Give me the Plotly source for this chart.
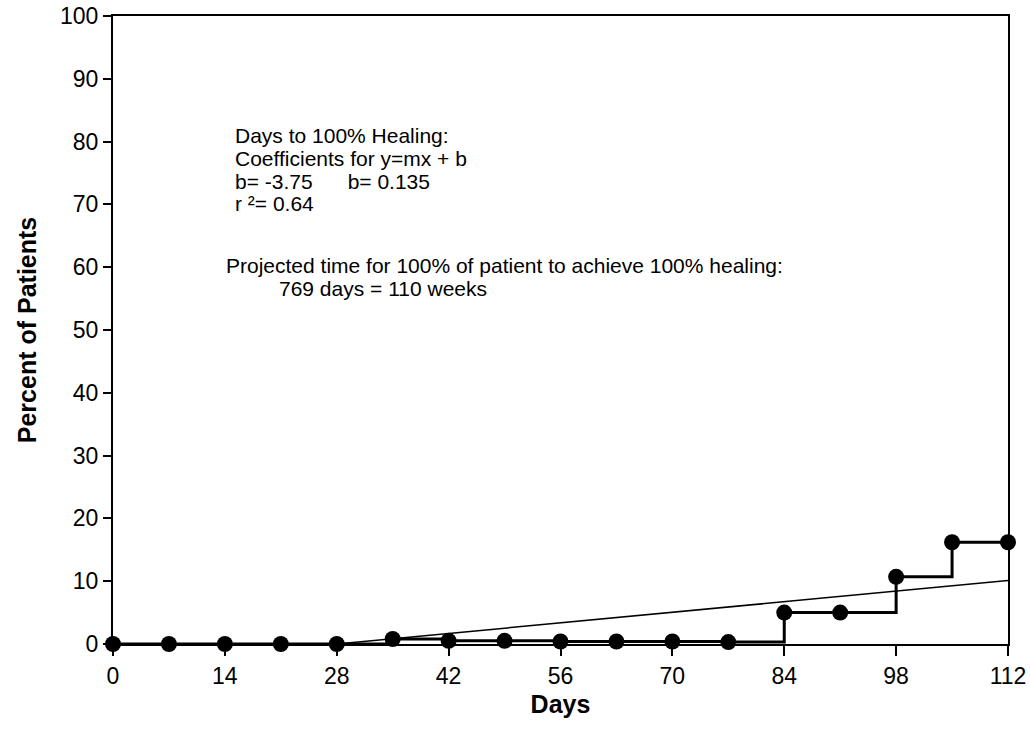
import plotly.graph_objects as go

days = [0, 7, 14, 21, 28, 35, 42, 49, 56, 63, 70, 77, 84, 91, 98, 105, 112]
percent_healed = [0, 0, 0, 0, 0, 0.8, 0.5, 0.5, 0.4, 0.4, 0.4, 0.3, 5, 5, 10.7, 16.2, 16.2]
trend_x = [28, 112]
trend_y = [0, 10.1]
x_ticks = [0, 14, 28, 42, 56, 70, 84, 98, 112]
y_ticks = [0, 10, 20, 30, 40, 50, 60, 70, 80, 90, 100]

note_lines = [
    "Days to 100% Healing:",
    "Coefficients for y=mx + b",
    "b= -3.75\u00a0\u00a0\u00a0\u00a0\u00a0\u00a0b= 0.135",
    "r \u00b2= 0.64",
]
note_x = [15, 15, 15, 15]
note_y = [80.9, 77.3, 73.7, 70.1]
proj_lines = [
    "Projected time for 100% of patient to achieve 100% healing:",
    "769 days = 110 weeks",
]
proj_x = [13.9, 20.5]
proj_y = [60.3, 56.6]

font = "Liberation Sans, Arial, sans-serif"

fig = go.Figure()
fig.add_trace(go.Scatter(
    x=trend_x, y=trend_y, mode="lines",
    line=dict(color="black", width=1.5), showlegend=False, hoverinfo="skip",
))
fig.add_trace(go.Scatter(
    x=days, y=percent_healed, mode="lines+markers",
    line=dict(color="black", width=3, shape="hv"),
    marker=dict(color="black", size=16, symbol="circle"),
    cliponaxis=False, showlegend=False,
))

annotations = []
for t, x, y in zip(note_lines + proj_lines, note_x + proj_x, note_y + proj_y):
    annotations.append(dict(
        x=x, y=y, xref="x", yref="y", text=t, showarrow=False,
        xanchor="left", yanchor="middle",
        font=dict(family=font, size=21, color="black"),
    ))

fig.update_layout(
    width=1030, height=744,
    margin=dict(l=113, r=22, t=16, b=100),
    paper_bgcolor="white", plot_bgcolor="white",
    font=dict(family=font, color="black"),
    annotations=annotations,
    xaxis=dict(
        range=[0, 112], tickvals=x_ticks, ticktext=[str(v) for v in x_ticks],
        showgrid=False, zeroline=False, automargin=False,
        showline=True, linecolor="black", linewidth=2, mirror=True,
        ticks="outside", ticklen=10, tickwidth=2, tickcolor="black",
        tickfont=dict(family=font, size=23, color="black"),
        title=dict(text="<b>Days</b>", font=dict(family=font, size=25, color="black"), standoff=8),
    ),
    yaxis=dict(
        range=[0, 100], tickvals=y_ticks, ticktext=[str(v) for v in y_ticks],
        showgrid=False, zeroline=False, automargin=False,
        showline=True, linecolor="black", linewidth=2, mirror=True,
        ticks="outside", ticklen=8, tickwidth=2, tickcolor="black",
        tickfont=dict(family=font, size=23, color="black"),
        title=dict(text="<b>Percent of Patients</b>", font=dict(family=font, size=25, color="black"), standoff=16),
    ),
)

fig.write_html("out.html")
